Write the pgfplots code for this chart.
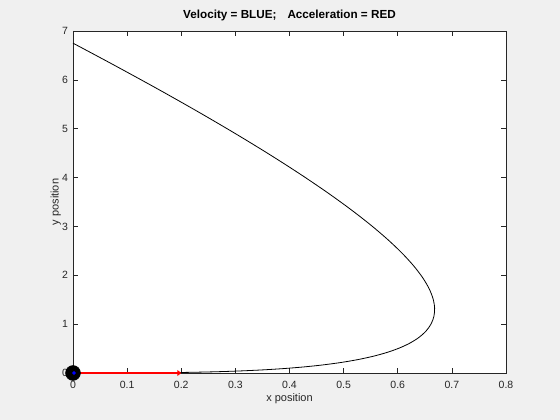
\documentclass[border=0pt]{standalone}
\usepackage{pgfplots}
\pgfplotsset{compat=1.18}
\usepackage{fontspec}
\setmainfont{Liberation Sans}
\usetikzlibrary{arrows.meta}
\definecolor{figbg}{rgb}{0.94,0.94,0.94}
\definecolor{axc}{rgb}{0.15,0.15,0.15}
\begin{document}
\begin{tikzpicture}[x=1pt,y=1pt]
\fill[figbg] (0,0) rectangle (560,420);
\begin{axis}[
  at={(73pt,47pt)}, anchor=south west,
  scale only axis, width=433pt, height=342pt,
  xmin=0, xmax=0.8, ymin=0, ymax=7,
  xtick={0,0.1,0.2,0.3,0.4,0.5,0.6,0.7,0.8},
  ytick={0,1,2,3,4,5,6,7},
  tick align=inside, major tick length=5pt,
  /pgf/number format/assume math mode=true,
  /pgf/number format/fixed,
  tick label style={font=\fontsize{10.5}{12}\selectfont, text=axc},
  xticklabel style={yshift=-4.5pt},
  yticklabel style={xshift=-1.5pt},
  axis line style={axc, line width=0.6pt},
  every tick/.style={axc, line width=0.6pt},
  xlabel={x position}, ylabel={y position},
  label style={font=\fontsize{11}{13}\selectfont, text=axc},
  xlabel style={at={(axis description cs:0.5,0)}, anchor=base, yshift=-29pt},
  ylabel style={at={([xshift=-14.5pt]axis description cs:0,0.5)}, anchor=base},
  title={\textbf{Velocity = BLUE;\hspace{11pt}Acceleration = RED}},
  title style={at={(axis description cs:0.5,1)}, anchor=base, yshift=6pt, font=\fontsize{11.7}{14}\selectfont, text=black},
  axis background/.style={fill=white},
  clip=false,
]
\addplot[black, line width=0.8pt, smooth] coordinates {
(0,0) (0.04590,0.000125) (0.09160,0.001) (0.13692,0.003375) (0.18166,0.008)
(0.22563,0.015625) (0.26864,0.027) (0.31048,0.042875) (0.35098,0.064)
(0.38993,0.091125) (0.42715,0.125) (0.46244,0.166375) (0.49561,0.216)
(0.52646,0.274625) (0.55480,0.343) (0.58044,0.421875) (0.60319,0.512)
(0.62286,0.614125) (0.63924,0.729) (0.65215,0.857375) (0.6614,1.0)
(0.66679,1.157625) (0.66813,1.331) (0.66522,1.520875) (0.65788,1.728)
(0.64591,1.953125) (0.62911,2.197) (0.60730,2.460375) (0.58028,2.744)
(0.54786,3.048625) (0.50985,3.375) (0.46605,3.723875) (0.41627,4.096)
(0.36032,4.492125) (0.29800,4.913) (0.22912,5.359375) (0.15349,5.832)
(0.07092,6.331625) (0,6.751)
};
\addplot[black, only marks, mark=*, mark size=7.5pt, mark options={fill=black}] coordinates {(0,0)};
\addplot[red, line width=2.8pt, -{Triangle[length=4pt,width=6pt]}] coordinates {(0,0) (0.2,0)};
\addplot[blue, only marks, mark=*, mark size=1.6pt] coordinates {(0.002,0)};
\end{axis}
\end{tikzpicture}
\end{document}
